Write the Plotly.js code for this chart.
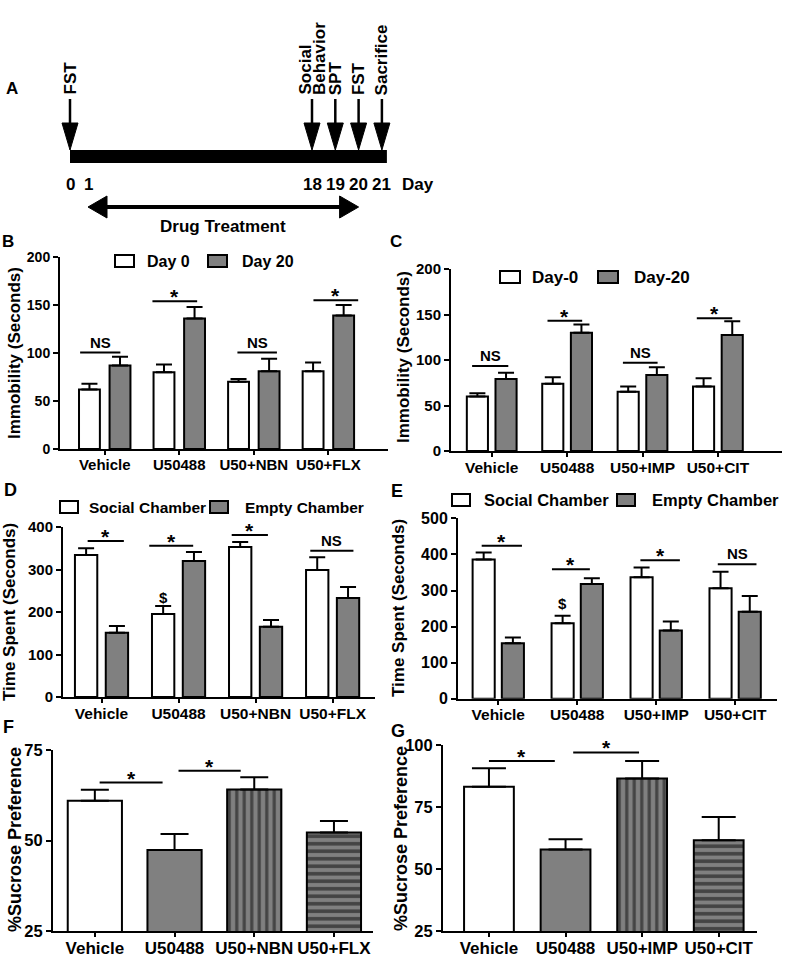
<!DOCTYPE html>
<html>
<head>
<meta charset="utf-8">
<script src="https://cdn.plot.ly/plotly-3.0.1.min.js"></script>
<style>html,body{margin:0;padding:0;background:#fff}</style>
</head>
<body>
<div id="fig" style="width:787px;height:958px"></div>
<script>
// ---- panel A: timeline ----
var tlDays = [0, 1, 18, 19, 20, 21];
var eventDays = [0, 18, 19, 20, 21];
var eventNames = ['FST', 'Social<br>Behavior', 'SPT', 'FST', 'Sacrifice'];
var drugDays = [1, 20];

// ---- panel B: FST immobility, NBN / FLX ----
var groupsB = ['Vehicle', 'U50488', 'U50+NBN', 'U50+FLX'];
var day0B = [62, 80, 70, 81];
var day0B_err = [6, 8, 3, 9];
var day20B = [87, 136, 81, 139];
var day20B_err = [9, 12, 13, 11];
var sigB_x0 = [-0.33, 0.64, 1.78, 2.8];
var sigB_x1 = [0.21, 1.24, 2.31, 3.4];
var sigB_y = [100.5, 154, 100.5, 155];
var sigB_txt = ['NS', '*', 'NS', '*'];

// ---- panel C: FST immobility, IMP / CIT ----
var groupsC = ['Vehicle', 'U50488', 'U50+IMP', 'U50+CIT'];
var day0C = [60, 74, 65, 71];
var day0C_err = [3.5, 7, 6, 9];
var day20C = [79, 130, 83.5, 127.5];
var day20C_err = [7, 9, 8.5, 15];
var sigC_x0 = [-0.26, 0.74, 1.74, 2.72];
var sigC_x1 = [0.22, 1.2, 2.2, 3.19];
var sigC_y = [93.4, 143, 97, 146];
var sigC_txt = ['NS', '*', 'NS', '*'];

// ---- panel D: social interaction, NBN / FLX ----
var socialD = [334, 195, 353, 299];
var socialD_err = [16, 19, 12, 30];
var emptyD = [151, 320, 165, 233];
var emptyD_err = [16, 21, 16, 26];
var sigD_x0 = [-0.18, 0.62, 1.69, 2.71];
var sigD_x1 = [0.29, 1.19, 2.16, 3.27];
var sigD_y = [367, 356, 381, 344];
var sigD_txt = ['*', '*', '*', 'NS'];
var dollarD = [1, 235];

// ---- panel E: social interaction, IMP / CIT ----
var socialE = [386, 209, 337, 306];
var socialE_err = [19, 21, 27, 46];
var emptyE = [154, 318, 189, 241];
var emptyE_err = [16, 16, 25, 44];
var sigE_x0 = [-0.21, 0.68, 1.8, 2.78];
var sigE_x1 = [0.3, 1.16, 2.3, 3.27];
var sigE_y = [424, 359, 384, 373];
var sigE_txt = ['*', '*', '*', 'NS'];
var dollarE = [1, 265];

// ---- panel F / G: sucrose preference ----
var sucroseF = [61, 47.4, 64.1, 52.2];
var sucroseF_err = [3, 4.4, 3.4, 3.2];
var sigF_x0 = [0.06, 1.05];
var sigF_x1 = [0.85, 1.83];
var sigF_y = [66, 69.3];
var sucroseG = [83.2, 57.9, 86.5, 61.6];
var sucroseG_err = [7.4, 4.1, 7, 9.4];
var sigG_x0 = [0, 1.1];
var sigG_x1 = [0.86, 1.96];
var sigG_y = [93.5, 97];

var W = 787, H = 958;
var FONT = 'Liberation Sans, Arial, sans-serif';
var GRAY = '#808080';

function fx(p) { return p / W; }
function fy(p) { return 1 - p / H; }
function zeros(a) { return a.map(function () { return 0; }); }
function idx(a) { return a.map(function (v, i) { return i; }); }

var traces = [];
var shapes = [];
var annotations = [];
var layout = {
    width: W, height: H,
    margin: {l: 0, r: 0, t: 0, b: 0},
    paper_bgcolor: '#fff', plot_bgcolor: 'rgba(0,0,0,0)',
    showlegend: false,
    barmode: 'overlay',
    font: {family: FONT, color: '#000'}
};

function bold(size) {
    return {family: FONT, size: size, weight: 'bold', color: '#000'};
}

// set up one bar panel's axes
function panelAxes(n, box, xrange, yrange, dtick, groups, xs, ys) {
    var k = n === 1 ? '' : n;
    layout['xaxis' + k] = {
        domain: [fx(box[0]), fx(box[1])], range: xrange, anchor: 'y' + k,
        tickvals: idx(groups), ticktext: groups,
        showline: true, linewidth: 2, linecolor: '#000',
        ticks: 'outside', ticklen: 4, tickwidth: 2, tickcolor: '#000',
        ticklabelstandoff: -3,
        showgrid: false, zeroline: false, fixedrange: true,
        tickfont: bold(xs)
    };
    layout['yaxis' + k] = {
        domain: [fy(box[3]), fy(box[2])], range: yrange, anchor: 'x' + k,
        tick0: 0, dtick: dtick,
        showline: true, linewidth: 2, linecolor: '#000',
        ticks: 'outside', ticklen: 5, tickwidth: 2, tickcolor: '#000',
        showgrid: false, zeroline: false, fixedrange: true,
        tickfont: bold(ys)
    };
    return {x: 'x' + k, y: 'y' + k};
}

function errY(arr, w) {
    return {type: 'data', array: arr, arrayminus: zeros(arr), symmetric: false,
            color: '#000', thickness: 2, width: w, visible: true};
}

function addSig(ax, x0, x1, ys, txt) {
    for (var i = 0; i < ys.length; i++) {
        traces.push({type: 'scatter', mode: 'lines', x: [x0[i], x1[i]], y: [ys[i], ys[i]],
            xaxis: ax.x, yaxis: ax.y, line: {color: '#000', width: 2}, hoverinfo: 'skip'});
        var star = txt[i] === '*';
        annotations.push({xref: ax.x, yref: ax.y, x: (x0[i] + x1[i]) / 2, y: ys[i],
            text: txt[i], showarrow: false, yanchor: 'bottom',
            yshift: star ? -9 : 0, font: bold(star ? 21 : 15)});
    }
}

function addGrouped(ax, a, aErr, b, bErr, barW, half) {
    [[a, aErr, '#ffffff', -1], [b, bErr, GRAY, 1]].forEach(function (s) {
        traces.push({type: 'bar', x: idx(s[0]), y: s[0], xaxis: ax.x, yaxis: ax.y,
            width: barW, offset: s[3] * half - barW / 2,
            marker: {color: s[2], line: {color: '#000', width: 2}},
            error_y: errY(s[1], 8), hoverinfo: 'skip'});
    });
}

function addSucrose(ax, vals, errs, barW, cap) {
    traces.push({type: 'bar', x: idx(vals), y: vals, xaxis: ax.x, yaxis: ax.y,
        width: barW, base: 0,
        marker: {color: ['#ffffff', GRAY, GRAY, GRAY], line: {color: '#000', width: 2},
                 pattern: {shape: ['', '', '|', '-'], fgcolor: '#000', fgopacity: 1,
                           size: 7.5, solidity: [0.42, 0.42, 0.42, 0.48], fillmode: 'overlay'}},
        error_y: errY(errs, cap), hoverinfo: 'skip'});
}

function legendPair(y, boxes, labels, size) {
    for (var i = 0; i < 2; i++) {
        shapes.push({type: 'rect', xref: 'paper', yref: 'paper',
            x0: fx(boxes[i][0]), x1: fx(boxes[i][1]), y0: fy(y - 6), y1: fy(y + 6),
            fillcolor: i === 0 ? '#ffffff' : GRAY, line: {color: '#000', width: 2}});
        annotations.push({xref: 'paper', yref: 'paper', x: fx(boxes[i][2]), y: fy(y),
            xanchor: 'left', yanchor: 'middle', text: labels[i], showarrow: false, font: bold(size)});
    }
}

function label(txt, x, y, size, angle) {
    annotations.push({xref: 'paper', yref: 'paper', x: fx(x), y: fy(y), text: txt,
        showarrow: false, xanchor: 'center', yanchor: 'middle', textangle: angle || 0,
        font: bold(size)});
}

// ---- B ----
var axB = panelAxes(1, [60, 388, 257, 449], [-0.6, 3.8], [0, 200], 50, groupsB, 15, 14);
addGrouped(axB, day0B, day0B_err, day20B, day20B_err, 0.28, 0.205);
addSig(axB, sigB_x0, sigB_x1, sigB_y, sigB_txt);
legendPair(261, [[115, 134, 145], [208, 227, 240]], ['Day 0', 'Day 20'], 16);
label('Immobility (Seconds)', 15, 353, 17, -90);
label('B', 8, 241, 17);

// ---- C ----
var axC = panelAxes(2, [451, 782, 269, 451], [-0.54, 3.85], [0, 200], 50, groupsC, 15.5, 15);
addGrouped(axC, day0C, day0C_err, day20C, day20C_err, 0.28, 0.19);
addSig(axC, sigC_x0, sigC_x1, sigC_y, sigC_txt);
legendPair(277, [[500, 520, 530], [598, 618, 632]], ['Day-0', 'Day-20'], 17);
label('Immobility (Seconds)', 403, 357, 17, -90);
label('C', 396, 241, 17);

// ---- D ----
var axD = panelAxes(3, [63, 375, 527, 697], [-0.5, 3.55], [0, 400], 100, groupsB, 15.5, 15);
addGrouped(axD, socialD, socialD_err, emptyD, emptyD_err, 0.29, 0.2);
addSig(axD, sigD_x0, sigD_x1, sigD_y, sigD_txt);
annotations.push({xref: axD.x, yref: axD.y, x: dollarD[0] - 0.2, y: dollarD[1], text: '$',
    showarrow: false, font: bold(15)});
legendPair(507, [[60, 78, 87], [210, 228, 243]], ['Social Chamber', 'Empty Chamber'], 15.5);
label('Time Spent (Seconds)', 9, 612, 17, -90);
label('D', 10, 490, 18);

// ---- E ----
var axE = panelAxes(4, [458, 777, 518.3, 698.8], [-0.51, 3.53], [0, 500], 100, groupsC, 15.5, 16);
addGrouped(axE, socialE, socialE_err, emptyE, emptyE_err, 0.28, 0.185);
addSig(axE, sigE_x0, sigE_x1, sigE_y, sigE_txt);
annotations.push({xref: axE.x, yref: axE.y, x: dollarE[0] - 0.185, y: dollarE[1], text: '$',
    showarrow: false, font: bold(15)});
legendPair(500, [[452, 470, 482], [617, 635, 650]], ['Social Chamber', 'Empty Chamber'], 16.5);
label('Time Spent (Seconds)', 398, 608, 17, -90);
label('E', 397, 491, 18);

// ---- F ----
var axF = panelAxes(5, [53, 373, 750, 931], [-0.525, 3.49], [25, 75], 25, groupsB, 17, 16.5);
addSucrose(axF, sucroseF, sucroseF_err, 0.68, 14);
addSig(axF, sigF_x0, sigF_x1, sigF_y, ['*', '*']);
label('%Sucrose Preference', 15, 840, 18, -90);
label('F', 8, 727, 18);

// ---- G ----
var axG = panelAxes(6, [443, 757, 745, 931], [-0.6, 3.5], [25, 100], 25, groupsC, 17, 16.5);
addSucrose(axG, sucroseG, sucroseG_err, 0.65, 17);
addSig(axG, sigG_x0, sigG_x1, sigG_y, ['*', '*']);
label('%Sucrose Preference', 401, 838, 18, -90);
label('G', 398, 731, 18);

// ---- A: timeline drawn on a hidden pixel-scaled axis pair ----
layout.xaxis7 = {domain: [0, 1], range: [0, W], visible: false, fixedrange: true, anchor: 'y7'};
layout.yaxis7 = {domain: [fy(240), 1], range: [240, 0], visible: false, fixedrange: true, anchor: 'x7'};

// schematic (broken) day scale: days 1..18 are compressed
function dayX(d) {
    if (d <= 1) return 70 + 18 * d;
    if (d <= 18) return 88 + (d - 1) * 224 / 17;
    return 312 + (d - 18) * 23.3;
}

var xa = 'x7', ya = 'y7';
shapes.push({type: 'rect', xref: xa, yref: ya, x0: dayX(0), x1: dayX(21) + 5, y0: 150, y1: 163,
    fillcolor: '#000', line: {width: 0}});
eventDays.forEach(function (d, i) {
    var x = dayX(d);
    shapes.push({type: 'line', xref: xa, yref: ya, x0: x, x1: x, y0: 99, y1: 125,
        line: {color: '#000', width: 2.5}});
    shapes.push({type: 'path', xref: xa, yref: ya,
        path: 'M' + (x - 8) + ',123 L' + (x + 8) + ',123 L' + x + ',150 Z',
        fillcolor: '#000', line: {color: '#000', width: 1}});
    // two-line labels are set as side-by-side columns
    var lines = eventNames[i].split('<br>');
    lines.forEach(function (t, j) {
        annotations.push({xref: xa, yref: ya, x: x + (j - (lines.length - 1) / 2) * 15, y: 96,
            text: t, textangle: -90, showarrow: false, xanchor: 'center', yanchor: 'bottom',
            font: bold(17), borderpad: 0});
    });
});
tlDays.forEach(function (d) {
    annotations.push({xref: xa, yref: ya, x: dayX(d), y: 184, text: String(d), showarrow: false,
        font: bold(17)});
});
annotations.push({xref: xa, yref: ya, x: 418, y: 184, text: 'Day', showarrow: false,
    font: bold(17)});

var dx0 = dayX(drugDays[0]), dx1 = dayX(drugDays[1]);
shapes.push({type: 'line', xref: xa, yref: ya, x0: dx0 + 15, x1: dx1 - 15, y0: 207, y1: 207,
    line: {color: '#000', width: 4}});
shapes.push({type: 'path', xref: xa, yref: ya,
    path: 'M' + dx0 + ',207 L' + (dx0 + 19) + ',196 L' + (dx0 + 19) + ',218 Z',
    fillcolor: '#000', line: {color: '#000', width: 1}});
shapes.push({type: 'path', xref: xa, yref: ya,
    path: 'M' + dx1 + ',207 L' + (dx1 - 19) + ',196 L' + (dx1 - 19) + ',218 Z',
    fillcolor: '#000', line: {color: '#000', width: 1}});
annotations.push({xref: xa, yref: ya, x: (dx0 + dx1) / 2, y: 226, text: 'Drug Treatment',
    showarrow: false, font: bold(17)});
label('A', 12, 88, 17);

layout.shapes = shapes;
layout.annotations = annotations;

Plotly.newPlot('fig', traces, layout, {staticPlot: true, displayModeBar: false});
</script>
</body>
</html>
